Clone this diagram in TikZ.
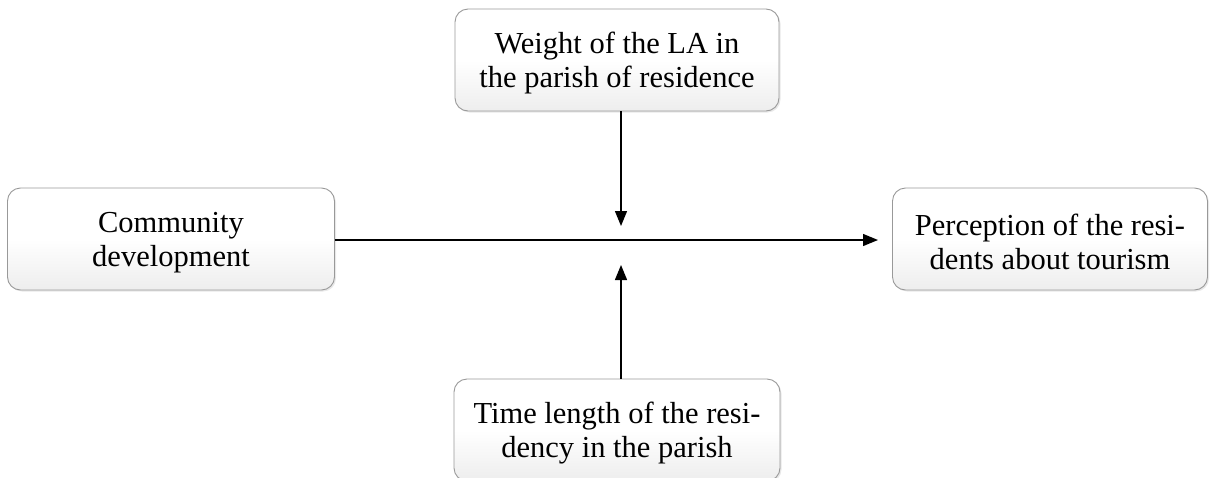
\documentclass[tikz,border=0pt]{standalone}
\usepackage{fontspec}
\setmainfont{Liberation Serif}
\usetikzlibrary{arrows.meta,shadows}
\newcommand{\lowstrut}{\rule{0pt}{27pt}}
\begin{document}
\begin{tikzpicture}[x=1pt,y=-1pt,
  boxnode/.style={draw=gray!80, line width=0.9pt, rounded corners=13pt,
    top color=white, bottom color=gray!14, middle color=white,
    drop shadow={opacity=0.18, shadow xshift=1.5pt, shadow yshift=-1.5pt},
    minimum width=#1, minimum height=102pt, inner sep=0pt, align=center,
    font=\fontsize{30.5}{34}\selectfont},
  conn/.style={line width=1.3pt, -{Triangle[length=15pt,width=12pt]}}]
\useasboundingbox (0,0) rectangle (1211,477);
\node[boxnode=324pt] (top) at (617,60) {\lowstrut Weight of the LA in\\the parish of residence};
\node[boxnode=327pt] (left) at (171,239) {\lowstrut Community\\development};
\node[boxnode=315pt] (right) at (1050,239) {\lowstrut Perception of the resi-\\dents about tourism};
\node[boxnode=326pt] (bot) at (617,430) {\lowstrut Time length of the resi-\\dency in the parish};
\coordinate (dtip) at (621,226);
\coordinate (utip) at (621,265);
\coordinate (htip) at (878,240);
\draw[conn] (top.south -| dtip) -- (dtip);
\draw[conn] (bot.north -| utip) -- (utip);
\draw[conn] (left.east |- htip) -- (htip);
\end{tikzpicture}
\end{document}
